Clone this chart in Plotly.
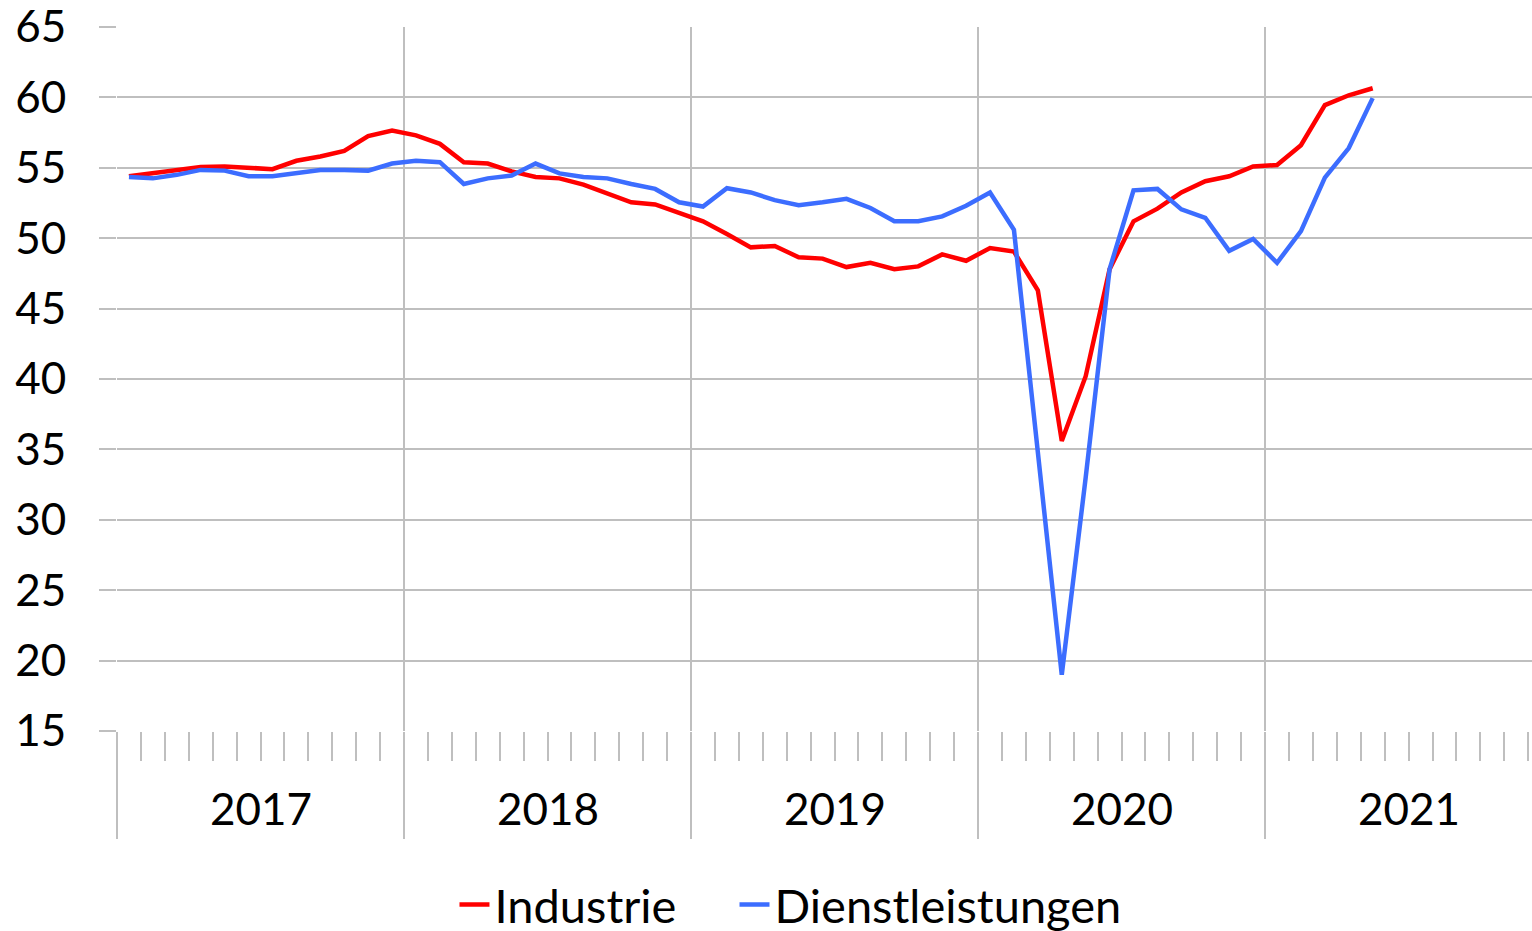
import plotly.graph_objects as go

# Monthly index readings, January 2017 to May 2021
years = ["2017", "2018", "2019", "2020", "2021"]
months_per_year = 12

industrie = [
    54.4, 54.6, 54.8, 55.05, 55.1, 55.0, 54.9, 55.5, 55.8, 56.2, 57.25, 57.65,
    57.3, 56.7, 55.4, 55.3, 54.75, 54.35, 54.25, 53.8, 53.15, 52.55, 52.4, 51.8,
    51.2, 50.3, 49.35, 49.45, 48.65, 48.55, 47.95, 48.25, 47.8, 48.0, 48.85, 48.4,
    49.3, 49.05, 46.3, 35.6, 40.2, 47.8, 51.2, 52.1, 53.25, 54.05, 54.4, 55.1,
    55.2, 56.6, 59.45, 60.15, 60.65,
]

dienstleistungen = [
    54.35, 54.25, 54.5, 54.85, 54.8, 54.4, 54.4, 54.6, 54.85, 54.85, 54.8, 55.3,
    55.5, 55.4, 53.85, 54.25, 54.45, 55.3, 54.6, 54.35, 54.25, 53.85, 53.5, 52.55,
    52.25, 53.55, 53.25, 52.7, 52.35, 52.55, 52.8, 52.15, 51.2, 51.2, 51.55, 52.3,
    53.25, 50.6, 34.8, 19.0, 33.0, 47.8, 53.4, 53.5, 52.05, 51.45, 49.1, 49.95,
    48.25, 50.5, 54.3, 56.4, 59.95,
]

y_ticks = [15, 20, 25, 30, 35, 40, 45, 50, 55, 60, 65]

FONT = "Lato"
GRID = "#BFBFBF"
RED = "#FF0000"
BLUE = "#3C6DFF"

x = list(range(len(industrie)))
n_months = months_per_year * len(years)
year_bounds = [months_per_year * k - 0.5 for k in range(len(years) + 1)]
month_bounds = [m - 0.5 for m in range(n_months + 1) if m % months_per_year]

fig = go.Figure()
fig.add_trace(go.Scatter(
    x=x, y=industrie, mode="lines", name="Industrie",
    line=dict(color=RED, width=4.5), legend="legend",
))
fig.add_trace(go.Scatter(
    x=x, y=dienstleistungen, mode="lines", name="Dienstleistungen",
    line=dict(color=BLUE, width=4.5), legend="legend2",
))

# Year labels centred under each year block
for k, yr in enumerate(years):
    fig.add_annotation(
        x=months_per_year * k + (months_per_year - 1) / 2, xref="x",
        y=-0.109, yref="paper", yanchor="middle",
        text=yr, showarrow=False,
        font=dict(family=FONT, size=44, color="black"),
    )

legend_style = dict(
    orientation="h", xanchor="left",
    yref="container", y=0.028, yanchor="middle",
    font=dict(family=FONT, size=47, color="black"),
    itemwidth=30, bgcolor="rgba(0,0,0,0)",
)

fig.update_layout(
    width=1532, height=931,
    margin=dict(l=117, r=0, t=27, b=200, autoexpand=False),
    plot_bgcolor="white", paper_bgcolor="white",
    font=dict(family=FONT, size=44, color="black"),
    showlegend=True,
    legend=dict(x=0.2385, **legend_style),
    legend2=dict(x=0.4364, **legend_style),
    xaxis=dict(
        range=[-0.5, 58.66],
        tickmode="array", tickvals=year_bounds,
        showticklabels=False,
        ticks="outside", ticklen=107, tickwidth=2, tickcolor=GRID,
        showgrid=True, gridcolor=GRID, gridwidth=2,
        zeroline=False, showline=False,
        minor=dict(
            tickmode="array", tickvals=month_bounds,
            ticks="outside", ticklen=29, tickwidth=2, tickcolor=GRID,
            showgrid=False,
        ),
    ),
    yaxis=dict(
        range=[15, 65],
        tickmode="array", tickvals=y_ticks,
        ticks="outside", ticklen=17, tickwidth=2, tickcolor=GRID,
        showgrid=True, gridcolor=GRID, gridwidth=2,
        zeroline=False, showline=False,
        ticklabelstandoff=24, ticklabeloverflow="allow",
        tickfont=dict(family=FONT, size=44, color="black"),
    ),
)

fig.write_html("out.html")
